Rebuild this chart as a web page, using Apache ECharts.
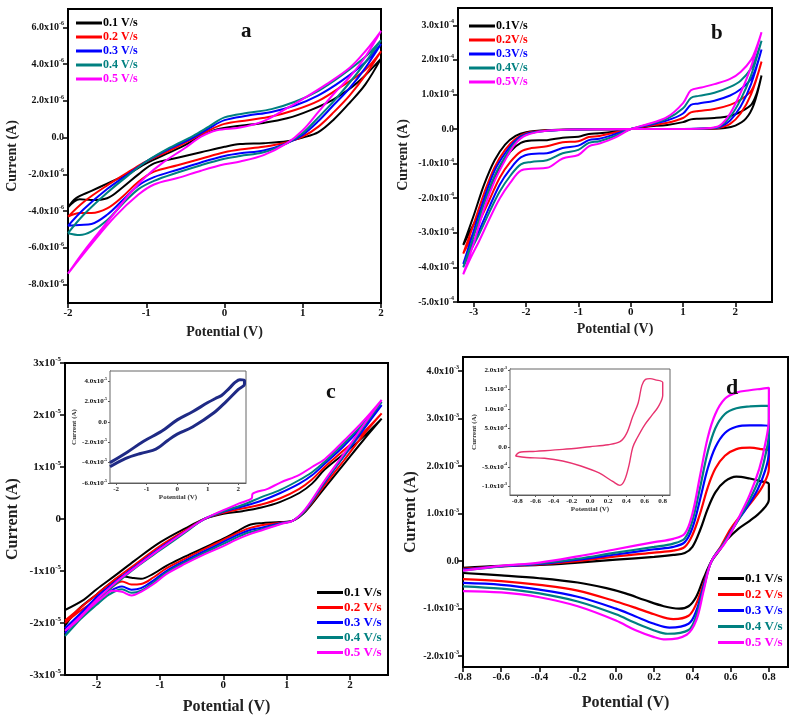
<!DOCTYPE html>
<html>
<head>
<meta charset="utf-8">
<script src="https://cdn.jsdelivr.net/npm/echarts@6/dist/echarts.min.js"></script>
<style>
  html, body { margin: 0; padding: 0; background: #fff; }
  #chart { width: 798px; height: 721px; }
</style>
</head>
<body>
<div id="chart"></div>
<script>
// scan rates and colours
const ratesSp = ['0.1 V/s', '0.2 V/s', '0.3 V/s', '0.4 V/s', '0.5 V/s'];
const ratesB = ['0.1V/s', '0.2V/s', '0.3V/s', '0.4V/s', '0.5V/s'];
const colors = ['#000000', '#ff0000', '#0000ff', '#008080', '#ff00ff'];

// ---- panel a : current in 1e-6 A ----
const aXTicks = [-2, -1, 0, 1, 2];
const aYTicks = [-8, -6, -4, -2, 0, 2, 4, 6];
const a01 = [[-2,-3.8],[-1.9,-3.3],[-1.7,-2.9],[-1.5,-2.5],[-1.2,-1.9],[-1,-1.4],[-0.7,-0.8],[-0.5,-0.4],[-0.3,0.1],[-0.1,0.45],[0.2,0.65],[0.5,0.8],[0.8,1.05],[1.1,1.5],[1.4,2.1],[1.7,3.0],[2,4.3],
  [1.8,2.9],[1.6,1.9],[1.4,1.0],[1.2,0.3],[1.0,0.0],[0.8,-0.2],[0.5,-0.3],[0.2,-0.35],[0,-0.5],[-0.3,-0.8],[-0.6,-1.1],[-0.9,-1.4],[-1.1,-2.0],[-1.3,-2.7],[-1.5,-3.3],[-1.7,-3.4],[-1.85,-3.35],[-2,-3.8]];
const a02 = [[-2,-4.3],[-1.8,-3.5],[-1.5,-2.6],[-1.2,-1.8],[-1,-1.3],[-0.7,-0.7],[-0.4,-0.05],[-0.2,0.4],[0,0.75],[0.3,0.95],[0.6,1.15],[0.9,1.5],[1.2,2.0],[1.5,2.8],[1.8,3.7],[2,4.7],
  [1.8,3.4],[1.6,2.3],[1.4,1.4],[1.2,0.6],[1.0,0.05],[0.8,-0.25],[0.5,-0.5],[0.2,-0.65],[0,-0.8],[-0.3,-1.15],[-0.6,-1.5],[-0.9,-1.85],[-1.1,-2.4],[-1.3,-3.2],[-1.5,-3.85],[-1.7,-4.1],[-1.85,-4.1],[-2,-4.3]];
const a03 = [[-2,-4.8],[-1.8,-3.9],[-1.5,-2.8],[-1.2,-1.9],[-1,-1.3],[-0.7,-0.6],[-0.4,0.0],[-0.2,0.5],[0,0.95],[0.3,1.2],[0.6,1.4],[0.9,1.75],[1.2,2.3],[1.5,3.1],[1.8,4.1],[2,5.1],
  [1.8,3.8],[1.6,2.7],[1.4,1.8],[1.2,0.9],[1.0,0.15],[0.8,-0.3],[0.5,-0.7],[0.2,-0.85],[0,-1.0],[-0.3,-1.35],[-0.6,-1.75],[-0.9,-2.15],[-1.1,-2.6],[-1.3,-3.4],[-1.5,-4.2],[-1.7,-4.7],[-1.85,-4.75],[-2,-4.8]];
const a04 = [[-2,-5.2],[-1.8,-4.2],[-1.5,-3.0],[-1.2,-1.95],[-1,-1.3],[-0.7,-0.55],[-0.4,0.1],[-0.2,0.6],[0,1.1],[0.3,1.35],[0.6,1.55],[0.9,1.95],[1.2,2.55],[1.5,3.4],[1.8,4.4],[2,5.3],
  [1.8,4.1],[1.6,3.0],[1.4,2.0],[1.2,1.1],[1.0,0.25],[0.8,-0.3],[0.5,-0.8],[0.2,-1.0],[0,-1.15],[-0.3,-1.5],[-0.6,-1.9],[-0.9,-2.35],[-1.1,-2.8],[-1.3,-3.6],[-1.5,-4.5],[-1.7,-5.1],[-1.85,-5.3],[-2,-5.2]];
const a05 = [[-2,-7.4],[-1.8,-6.2],[-1.5,-4.6],[-1.2,-3.0],[-1,-2.1],[-0.8,-1.4],[-0.5,-0.55],[-0.3,0.05],[-0.1,0.4],[0.2,0.55],[0.5,0.9],[0.8,1.6],[1.0,2.1],[1.3,2.9],[1.6,3.8],[1.8,4.7],[2,5.8],
  [1.8,4.4],[1.6,3.3],[1.4,2.4],[1.2,1.4],[1.0,0.4],[0.8,-0.3],[0.5,-0.95],[0.2,-1.3],[0,-1.45],[-0.3,-1.8],[-0.6,-2.2],[-0.9,-2.55],[-1.1,-3.1],[-1.4,-4.3],[-1.7,-5.8],[-2,-7.4]];

// ---- panel b : current in 1e-4 A ----
const bXTicks = [-3, -2, -1, 0, 1, 2];
const bYTicks = [-5, -4, -3, -2, -1, 0, 1, 2, 3];
const b01 = [[-3.2,-3.35],[-3.0,-2.5],[-2.8,-1.6],[-2.6,-0.9],[-2.4,-0.45],[-2.2,-0.2],[-2.0,-0.09],[-1.6,-0.03],[-1.0,-0.01],[0,0],[1.0,0.0],[1.5,0.01],[1.8,0.03],[2.0,0.1],[2.2,0.3],[2.35,0.7],[2.5,1.55],
  [2.4,1.0],[2.3,0.7],[2.1,0.5],[1.9,0.38],[1.6,0.32],[1.3,0.3],[1.15,0.28],[1.0,0.2],[0.7,0.12],[0.3,0.07],[0,0.0],[-0.3,-0.07],[-0.6,-0.12],[-0.8,-0.14],[-1.0,-0.22],[-1.3,-0.25],[-1.6,-0.32],[-1.9,-0.33],[-2.1,-0.4],[-2.3,-0.65],[-2.5,-1.1],[-2.7,-1.75],[-2.9,-2.45],[-3.05,-2.9],[-3.2,-3.35]];
const b02 = [[-3.2,-3.6],[-3.0,-2.75],[-2.8,-1.85],[-2.6,-1.1],[-2.4,-0.6],[-2.2,-0.28],[-2.0,-0.12],[-1.6,-0.04],[-1.0,-0.01],[0,0],[1.0,0.0],[1.5,0.01],[1.7,0.04],[1.9,0.15],[2.1,0.45],[2.3,1.0],[2.5,1.95],
  [2.4,1.45],[2.3,1.1],[2.1,0.85],[1.9,0.7],[1.6,0.58],[1.3,0.52],[1.15,0.48],[1.0,0.32],[0.7,0.18],[0.3,0.08],[0,0.0],[-0.3,-0.1],[-0.6,-0.2],[-0.8,-0.23],[-1.0,-0.35],[-1.3,-0.38],[-1.6,-0.5],[-1.9,-0.55],[-2.1,-0.65],[-2.3,-0.95],[-2.5,-1.4],[-2.7,-2.05],[-2.9,-2.7],[-3.05,-3.15],[-3.2,-3.6]];
const b03 = [[-3.2,-3.9],[-3.0,-2.95],[-2.8,-2.0],[-2.6,-1.2],[-2.4,-0.7],[-2.2,-0.33],[-2.0,-0.14],[-1.6,-0.05],[-1.0,-0.01],[0,0],[1.0,0],[1.5,0.02],[1.7,0.06],[1.9,0.25],[2.1,0.65],[2.3,1.3],[2.5,2.3],
  [2.4,1.8],[2.3,1.45],[2.1,1.15],[1.9,0.97],[1.6,0.82],[1.3,0.74],[1.15,0.7],[1.0,0.45],[0.7,0.25],[0.3,0.1],[0,0],[-0.3,-0.15],[-0.6,-0.28],[-0.8,-0.32],[-1.0,-0.48],[-1.3,-0.55],[-1.6,-0.7],[-1.9,-0.72],[-2.1,-0.82],[-2.3,-1.15],[-2.5,-1.6],[-2.7,-2.25],[-2.9,-2.95],[-3.05,-3.4],[-3.2,-3.9]];
const b04 = [[-3.2,-4.0],[-3.0,-3.1],[-2.8,-2.15],[-2.6,-1.35],[-2.4,-0.8],[-2.2,-0.38],[-2.0,-0.16],[-1.6,-0.05],[-1.0,-0.01],[0,0],[1.0,0],[1.5,0.02],[1.7,0.08],[1.9,0.35],[2.1,0.85],[2.3,1.55],[2.5,2.55],
  [2.4,2.1],[2.3,1.75],[2.1,1.4],[1.9,1.22],[1.6,1.05],[1.3,0.96],[1.15,0.9],[1.0,0.6],[0.7,0.3],[0.3,0.12],[0,0],[-0.3,-0.2],[-0.6,-0.35],[-0.8,-0.4],[-1.0,-0.6],[-1.3,-0.7],[-1.6,-0.9],[-1.9,-0.95],[-2.1,-1.02],[-2.3,-1.35],[-2.5,-1.8],[-2.7,-2.4],[-2.9,-3.05],[-3.05,-3.5],[-3.2,-4.0]];
const b05 = [[-3.2,-4.2],[-3.0,-3.3],[-2.8,-2.3],[-2.6,-1.5],[-2.4,-0.9],[-2.2,-0.42],[-2.0,-0.18],[-1.6,-0.05],[-1.0,-0.01],[0,0],[1.0,0],[1.5,0.03],[1.7,0.1],[1.9,0.45],[2.1,1.05],[2.3,1.8],[2.5,2.8],
  [2.4,2.35],[2.3,2.0],[2.1,1.65],[1.9,1.45],[1.6,1.3],[1.35,1.2],[1.15,1.12],[1.0,0.75],[0.7,0.35],[0.3,0.13],[0,0],[-0.3,-0.25],[-0.6,-0.42],[-0.8,-0.5],[-1.0,-0.75],[-1.3,-0.85],[-1.6,-1.12],[-1.9,-1.15],[-2.1,-1.2],[-2.3,-1.55],[-2.5,-2.0],[-2.7,-2.6],[-2.9,-3.25],[-3.05,-3.7],[-3.2,-4.2]];

// ---- panel c : current in 1e-5 A ----
const cXTicks = [-2, -1, 0, 1, 2];
const cYTicks = [-3, -2, -1, 0, 1, 2, 3];
const c01 = [[-2.5,-1.75],[-2.2,-1.55],[-2.0,-1.35],[-1.7,-1.08],[-1.4,-0.8],[-1.0,-0.45],[-0.6,-0.18],[-0.3,0.0],[0,0.1],[0.3,0.15],[0.6,0.22],[0.9,0.33],[1.2,0.5],[1.4,0.68],[1.6,0.95],[1.9,1.25],[2.2,1.57],[2.5,1.93],
  [2.2,1.5],[1.9,1.05],[1.6,0.6],[1.3,0.15],[1.1,-0.03],[0.9,-0.06],[0.6,-0.08],[0.4,-0.12],[0.2,-0.25],[0,-0.38],[-0.3,-0.55],[-0.6,-0.72],[-0.9,-0.9],[-1.1,-1.05],[-1.3,-1.15],[-1.45,-1.13],[-1.6,-1.1],[-1.8,-1.25],[-2.0,-1.45],[-2.3,-1.75],[-2.5,-2.05]];
const c02 = [[-2.5,-1.95],[-2.2,-1.65],[-2.0,-1.45],[-1.7,-1.15],[-1.4,-0.88],[-1.0,-0.52],[-0.6,-0.22],[-0.3,0.0],[0,0.12],[0.3,0.2],[0.6,0.28],[0.9,0.4],[1.2,0.58],[1.4,0.76],[1.6,1.0],[1.9,1.32],[2.2,1.65],[2.5,2.03],
  [2.2,1.6],[1.9,1.12],[1.6,0.65],[1.3,0.17],[1.1,-0.03],[0.9,-0.07],[0.6,-0.12],[0.4,-0.18],[0.2,-0.28],[0,-0.4],[-0.3,-0.58],[-0.6,-0.76],[-0.9,-0.95],[-1.1,-1.12],[-1.3,-1.25],[-1.45,-1.26],[-1.6,-1.2],[-1.8,-1.35],[-2.0,-1.55],[-2.3,-1.8],[-2.5,-2.0]];
const c03 = [[-2.5,-2.1],[-2.2,-1.75],[-2.0,-1.5],[-1.7,-1.2],[-1.4,-0.92],[-1.0,-0.56],[-0.6,-0.24],[-0.3,0.0],[0,0.14],[0.3,0.24],[0.6,0.35],[0.9,0.5],[1.2,0.68],[1.4,0.84],[1.6,1.06],[1.9,1.4],[2.2,1.78],[2.5,2.19],
  [2.2,1.7],[1.9,1.2],[1.6,0.7],[1.3,0.18],[1.1,-0.03],[0.9,-0.08],[0.6,-0.17],[0.4,-0.22],[0.2,-0.32],[0,-0.44],[-0.3,-0.62],[-0.6,-0.8],[-0.9,-1.0],[-1.1,-1.18],[-1.3,-1.33],[-1.45,-1.36],[-1.6,-1.3],[-1.8,-1.4],[-2.0,-1.6],[-2.3,-1.9],[-2.5,-2.2]];
const c04 = [[-2.5,-2.25],[-2.2,-1.85],[-2.0,-1.58],[-1.7,-1.25],[-1.4,-0.95],[-1.0,-0.6],[-0.6,-0.26],[-0.3,0.0],[0,0.15],[0.3,0.27],[0.6,0.42],[0.9,0.56],[1.2,0.75],[1.4,0.9],[1.6,1.1],[1.9,1.45],[2.2,1.82],[2.5,2.25],
  [2.2,1.75],[1.9,1.22],[1.6,0.72],[1.3,0.18],[1.1,-0.03],[0.9,-0.09],[0.6,-0.2],[0.4,-0.26],[0.2,-0.36],[0,-0.48],[-0.3,-0.65],[-0.6,-0.83],[-0.9,-1.03],[-1.1,-1.22],[-1.3,-1.38],[-1.45,-1.42],[-1.6,-1.35],[-1.8,-1.45],[-2.0,-1.65],[-2.3,-1.98],[-2.5,-2.25]];
const c05 = [[-2.5,-2.15],[-2.2,-1.8],[-2.0,-1.55],[-1.7,-1.22],[-1.4,-0.94],[-1.0,-0.58],[-0.6,-0.24],[-0.3,0.0],[0,0.17],[0.25,0.3],[0.45,0.4],[0.46,0.48],[0.7,0.58],[0.9,0.7],[1.2,0.85],[1.4,1.0],[1.6,1.15],[1.9,1.5],[2.2,1.87],[2.5,2.29],
  [2.2,1.78],[1.9,1.25],[1.6,0.74],[1.3,0.2],[1.1,-0.03],[0.9,-0.1],[0.6,-0.22],[0.4,-0.3],[0.2,-0.4],[0,-0.52],[-0.3,-0.68],[-0.6,-0.86],[-0.9,-1.06],[-1.1,-1.25],[-1.3,-1.4],[-1.45,-1.47],[-1.6,-1.4],[-1.75,-1.38],[-1.9,-1.5],[-2.1,-1.7],[-2.3,-1.95],[-2.5,-2.15]];

// inset of c : 20 segments, current in 1e-5 A
const ciXTicks = [-2, -1, 0, 1, 2];
const ciYTicks = [-6, -4, -2, 0, 2, 4];
const cInset = [[-2.2,-4.0],[-1.65,-3.0],[-1.1,-1.9],[-0.5,-0.9],[0,0.2],[0.5,1.0],[1.0,1.9],[1.25,2.3],[1.45,2.6],[1.7,3.3],[1.9,3.9],[2.05,4.15],[2.2,4.1],
  [2.2,3.7],[2.0,3.2],[1.6,2.0],[1.2,0.9],[0.5,-0.5],[0,-1.2],[-0.3,-1.8],[-0.6,-2.5],[-0.8,-2.8],[-1.2,-3.1],[-1.7,-3.6],[-2.2,-4.4]];

// ---- panel d : current in 1e-3 A ----
const dXTicks = [-0.8, -0.6, -0.4, -0.2, 0, 0.2, 0.4, 0.6, 0.8];
const dYTicks = [-2, -1, 0, 1, 2, 3, 4];
const d01 = [[-0.8,-0.14],[-0.6,-0.1],[-0.4,-0.08],[-0.2,-0.03],[0,0.03],[0.2,0.09],[0.3,0.13],[0.36,0.17],[0.4,0.3],[0.44,0.65],[0.48,1.1],[0.52,1.45],[0.57,1.68],[0.63,1.78],[0.7,1.74],[0.76,1.68],[0.8,1.62],
  [0.8,1.3],[0.76,1.05],[0.7,0.85],[0.64,0.68],[0.58,0.45],[0.54,0.22],[0.5,0.0],[0.46,-0.35],[0.42,-0.75],[0.38,-0.95],[0.33,-1.0],[0.25,-0.95],[0.15,-0.82],[0.05,-0.68],[-0.05,-0.57],[-0.2,-0.45],[-0.4,-0.36],[-0.6,-0.3],[-0.8,-0.25]];
const d02 = [[-0.8,-0.16],[-0.6,-0.11],[-0.4,-0.07],[-0.2,0.0],[0,0.1],[0.2,0.18],[0.3,0.22],[0.36,0.3],[0.4,0.55],[0.44,1.0],[0.48,1.55],[0.52,1.95],[0.57,2.22],[0.63,2.36],[0.7,2.39],[0.76,2.36],[0.8,2.32],
  [0.8,1.95],[0.77,1.6],[0.72,1.3],[0.66,1.0],[0.6,0.68],[0.55,0.32],[0.5,0.0],[0.46,-0.45],[0.42,-0.9],[0.38,-1.15],[0.3,-1.22],[0.2,-1.12],[0.1,-0.98],[0,-0.85],[-0.2,-0.62],[-0.4,-0.5],[-0.6,-0.42],[-0.8,-0.38]];
const d03 = [[-0.8,-0.18],[-0.6,-0.11],[-0.4,-0.06],[-0.2,0.03],[0,0.14],[0.2,0.25],[0.3,0.3],[0.36,0.4],[0.4,0.7],[0.44,1.3],[0.48,1.95],[0.52,2.4],[0.57,2.7],[0.63,2.83],[0.7,2.86],[0.76,2.86],[0.8,2.85],
  [0.8,2.3],[0.78,1.9],[0.74,1.5],[0.68,1.1],[0.62,0.75],[0.56,0.35],[0.5,0.0],[0.46,-0.5],[0.42,-1.05],[0.38,-1.32],[0.28,-1.4],[0.2,-1.32],[0.1,-1.16],[0,-1.0],[-0.2,-0.75],[-0.4,-0.6],[-0.6,-0.5],[-0.8,-0.46]];
const d04 = [[-0.8,-0.2],[-0.6,-0.11],[-0.4,-0.05],[-0.2,0.05],[0,0.18],[0.2,0.3],[0.3,0.37],[0.36,0.48],[0.4,0.85],[0.44,1.55],[0.48,2.3],[0.52,2.8],[0.57,3.1],[0.63,3.22],[0.7,3.26],[0.76,3.27],[0.8,3.27],
  [0.8,2.7],[0.78,2.2],[0.75,1.75],[0.7,1.3],[0.63,0.8],[0.56,0.35],[0.5,0.0],[0.46,-0.55],[0.42,-1.15],[0.38,-1.45],[0.27,-1.53],[0.2,-1.46],[0.1,-1.3],[0,-1.12],[-0.2,-0.85],[-0.4,-0.68],[-0.6,-0.58],[-0.8,-0.53]];
const d05 = [[-0.8,-0.2],[-0.6,-0.1],[-0.4,-0.03],[-0.2,0.1],[0,0.25],[0.2,0.4],[0.3,0.47],[0.36,0.58],[0.4,1.0],[0.44,1.8],[0.48,2.6],[0.52,3.1],[0.57,3.42],[0.63,3.55],[0.7,3.6],[0.76,3.63],[0.8,3.65],
  [0.8,3.0],[0.78,2.45],[0.75,1.95],[0.7,1.4],[0.64,0.9],[0.57,0.38],[0.5,0.0],[0.46,-0.6],[0.42,-1.25],[0.37,-1.55],[0.26,-1.65],[0.2,-1.6],[0.1,-1.45],[0,-1.25],[-0.2,-0.95],[-0.4,-0.76],[-0.6,-0.66],[-0.8,-0.63]];

// inset of d : 20 segments, current in 1e-3 A
const diXTicks = [-0.8, -0.6, -0.4, -0.2, 0, 0.2, 0.4, 0.6, 0.8];
const diYTicks = [-1.0, -0.5, 0, 0.5, 1.0, 1.5, 2.0];
const diYLabels = [['-1.0', '-3'], ['-5.0', '-4'], ['0.0', ''], ['5.0', '-4'], ['1.0', '-3'], ['1.5', '-3'], ['2.0', '-3']];
const dInset = [[-0.82,-0.22],[-0.78,-0.13],[-0.6,-0.1],[-0.3,-0.05],[0,0.02],[0.2,0.07],[0.33,0.15],[0.4,0.35],[0.47,0.8],[0.53,1.15],[0.57,1.6],[0.61,1.76],[0.66,1.78],[0.72,1.75],[0.8,1.68],
  [0.8,1.35],[0.75,1.05],[0.68,0.83],[0.6,0.58],[0.52,0.25],[0.47,0.0],[0.43,-0.45],[0.38,-0.85],[0.33,-0.98],[0.25,-0.88],[0.1,-0.66],[-0.1,-0.48],[-0.3,-0.35],[-0.5,-0.28],[-0.7,-0.26],[-0.82,-0.22]];

const SERIF = '"Liberation Serif", "DejaVu Serif", serif';

function rich(size) {
  return {
    m: { fontFamily: SERIF, fontWeight: 'bold', fontSize: size, color: '#111' },
    e: { fontFamily: SERIF, fontWeight: 'bold', fontSize: Math.round(size * 0.6), color: '#111', padding: [0, 0, Math.round(size * 0.7), 0] }
  };
}
function sci(m, e) { return e ? '{m|' + m + 'x10}{e|' + e + '}' : '{m|' + m + '}'; }

function xAxisMain(grid, min, max, ticks, fmt, gap, fs) {
  return {
    type: 'value', gridIndex: grid, min: min, max: max,
    name: 'Potential (V)', nameLocation: 'middle', nameGap: gap,
    nameTextStyle: { fontFamily: SERIF, fontWeight: 'bold', fontSize: fs, color: '#222' },
    axisLine: { show: true, onZero: false, lineStyle: { color: '#000', width: 2 } },
    axisTick: { show: true, customValues: ticks, length: 5, lineStyle: { color: '#000', width: 1.5 } },
    axisLabel: { customValues: ticks, formatter: fmt, margin: 5, fontFamily: SERIF, fontWeight: 'bold', fontSize: 11, color: '#111' },
    splitLine: { show: false }
  };
}
function yAxisMain(grid, min, max, ticks, fmt, gap, fs, lsize) {
  return {
    type: 'value', gridIndex: grid, min: min, max: max,
    name: 'Current (A)', nameLocation: 'middle', nameGap: gap, nameRotate: 90,
    nameTextStyle: { fontFamily: SERIF, fontWeight: 'bold', fontSize: fs, color: '#222' },
    axisLine: { show: true, onZero: false, lineStyle: { color: '#000', width: 2 } },
    axisTick: { show: true, customValues: ticks, length: 5, lineStyle: { color: '#000', width: 1.5 } },
    axisLabel: { customValues: ticks, formatter: fmt, margin: 4, rich: rich(lsize) },
    splitLine: { show: false }
  };
}
function xAxisInset(grid, min, max, ticks, fmt, gap) {
  return {
    type: 'value', gridIndex: grid, min: min, max: max,
    name: 'Potential (V)', nameLocation: 'middle', nameGap: gap,
    nameTextStyle: { fontFamily: SERIF, fontWeight: 'bold', fontSize: 7, color: '#333' },
    axisLine: { show: true, onZero: false, lineStyle: { color: '#555', width: 1 } },
    axisTick: { show: true, customValues: ticks, length: 2, lineStyle: { color: '#555' } },
    axisLabel: { customValues: ticks, formatter: fmt, margin: 3, fontFamily: SERIF, fontWeight: 'bold', fontSize: 7, color: '#222' },
    splitLine: { show: false }
  };
}
function yAxisInset(grid, min, max, ticks, fmt, gap) {
  return {
    type: 'value', gridIndex: grid, min: min, max: max,
    name: 'Current (A)', nameLocation: 'middle', nameGap: gap, nameRotate: 90,
    nameTextStyle: { fontFamily: SERIF, fontWeight: 'bold', fontSize: 7, color: '#333' },
    axisLine: { show: true, onZero: false, lineStyle: { color: '#555', width: 1 } },
    axisTick: { show: true, customValues: ticks, length: 2, lineStyle: { color: '#555' } },
    axisLabel: { customValues: ticks, formatter: fmt, margin: 3, rich: rich(7) },
    splitLine: { show: false }
  };
}

function loop(name, data, color, idx, width) {
  return {
    name: name, type: 'line', data: data, xAxisIndex: idx, yAxisIndex: idx,
    smooth: 0.35, showSymbol: false, symbol: 'none', clip: true,
    lineStyle: { color: color, width: width }, itemStyle: { color: color }
  };
}

function legendFor(names, left, top, fs, gap) {
  return {
    left: left, top: top, orient: 'vertical', itemGap: gap,
    itemWidth: 26, itemHeight: 3, icon: 'rect', padding: 0, selectedMode: false,
    data: names.map((n, i) => ({ name: n, textStyle: { color: colors[i] } })),
    textStyle: { fontFamily: SERIF, fontWeight: 'bold', fontSize: fs, padding: [0, 0, 0, -4] }
  };
}

const gridBox = { show: true, borderColor: '#000', borderWidth: 2, backgroundColor: 'transparent' };

const option = {
  animation: false,
  backgroundColor: '#fff',
  title: [
    { text: 'a', left: 236, top: 16, textStyle: { fontFamily: SERIF, fontWeight: 'bold', fontSize: 21, color: '#111' } },
    { text: 'b', left: 706, top: 18, textStyle: { fontFamily: SERIF, fontWeight: 'bold', fontSize: 21, color: '#111' } },
    { text: 'c', left: 321, top: 376, textStyle: { fontFamily: SERIF, fontWeight: 'bold', fontSize: 22, color: '#111' } },
    { text: 'd', left: 721, top: 372, textStyle: { fontFamily: SERIF, fontWeight: 'bold', fontSize: 22, color: '#111' } }
  ],
  legend: [
    legendFor(ratesSp, 76, 17, 12, 2),
    legendFor(ratesB, 469, 20, 12, 2),
    legendFor(ratesSp, 317, 586, 13, 2),
    legendFor(ratesSp, 718, 572, 13, 3),
    { left: 120, top: 375, itemWidth: 13, itemHeight: 1, icon: 'rect', padding: 0, selectedMode: false,
      data: [{ name: '20 seg', itemStyle: { color: '#4a5a9a' } }],
      textStyle: { fontFamily: SERIF, fontWeight: 'bold', fontSize: 7, color: '#1a237e', padding: [0, 0, 0, -2] } },
    { left: 517, top: 375, itemWidth: 18, itemHeight: 1.5, icon: 'rect', padding: 0, selectedMode: false,
      data: [{ name: '20 seg ', itemStyle: { color: '#e8336f' } }],
      textStyle: { fontFamily: SERIF, fontWeight: 'bold', fontSize: 8, color: '#e8336f', padding: [0, 0, 0, -2] } }
  ],
  grid: [
    Object.assign({ left: 68, top: 9, width: 313, height: 294 }, gridBox),
    Object.assign({ left: 458, top: 8, width: 314, height: 294 }, gridBox),
    Object.assign({ left: 65, top: 363, width: 323, height: 312 }, gridBox),
    Object.assign({ left: 463, top: 357, width: 325, height: 310 }, gridBox),
    { show: true, left: 110, top: 371, width: 136, height: 112, backgroundColor: '#fff', borderColor: '#666', borderWidth: 1, z: 5 },
    { show: true, left: 510, top: 369, width: 160, height: 126, backgroundColor: '#fff', borderColor: '#666', borderWidth: 1, z: 5 }
  ],
  xAxis: [
    xAxisMain(0, -2, 2, aXTicks, v => String(v), 22, 14),
    xAxisMain(1, -3.3, 2.7, bXTicks, v => String(v), 20, 14),
    xAxisMain(2, -2.5, 2.6, cXTicks, v => String(v), 24, 16),
    xAxisMain(3, -0.8, 0.9, dXTicks, v => v.toFixed(1), 28, 16),
    xAxisInset(4, -2.2, 2.25, ciXTicks, v => String(v), 10),
    xAxisInset(5, -0.88, 0.88, diXTicks, v => v.toFixed(1), 10)
  ],
  yAxis: [
    yAxisMain(0, -9, 7, aYTicks, v => v === 0 ? sci('0.0', '') : sci(v.toFixed(1), '-6'), 49, 14, 10),
    yAxisMain(1, -5, 3.5, bYTicks, v => v === 0 ? sci('0.0', '') : sci(v.toFixed(1), '-4'), 48, 14, 10),
    yAxisMain(2, -3, 3, cYTicks, v => v === 0 ? sci('0', '') : sci(String(v), '-5'), 44, 16, 11),
    yAxisMain(3, -2.23, 4.3, dYTicks, v => v === 0 ? sci('0.0', '') : sci(v.toFixed(1), '-3'), 44, 16, 10),
    yAxisInset(4, -6, 5, ciYTicks, v => v === 0 ? sci('0.0', '') : sci(v.toFixed(1), '-5'), 30),
    yAxisInset(5, -1.23, 2.03, diYTicks, v => {
      const i = diYTicks.indexOf(v);
      return i < 0 ? '' : sci(diYLabels[i][0], diYLabels[i][1]);
    }, 31)
  ],
  series: [
    loop(ratesSp[0], a01, colors[0], 0, 2), loop(ratesSp[1], a02, colors[1], 0, 2),
    loop(ratesSp[2], a03, colors[2], 0, 2), loop(ratesSp[3], a04, colors[3], 0, 2),
    loop(ratesSp[4], a05, colors[4], 0, 2),
    loop(ratesB[0], b01, colors[0], 1, 2), loop(ratesB[1], b02, colors[1], 1, 2),
    loop(ratesB[2], b03, colors[2], 1, 2), loop(ratesB[3], b04, colors[3], 1, 2),
    loop(ratesB[4], b05, colors[4], 1, 2),
    loop(ratesSp[0], c01, colors[0], 2, 2), loop(ratesSp[1], c02, colors[1], 2, 2),
    loop(ratesSp[2], c03, colors[2], 2, 2), loop(ratesSp[3], c04, colors[3], 2, 2),
    loop(ratesSp[4], c05, colors[4], 2, 2),
    loop(ratesSp[0], d01, colors[0], 3, 2.2), loop(ratesSp[1], d02, colors[1], 3, 2.2),
    loop(ratesSp[2], d03, colors[2], 3, 2.2), loop(ratesSp[3], d04, colors[3], 3, 2.2),
    loop(ratesSp[4], d05, colors[4], 3, 2.2),
    Object.assign(loop('20 seg', cInset, '#1f2a85', 4, 3), { z: 6 }),
    Object.assign(loop('20 seg ', dInset, '#e8336f', 5, 1.4), { z: 6 })
  ]
};

const chart = echarts.init(document.getElementById('chart'), null, { renderer: 'canvas' });
chart.setOption(option);
</script>
</body>
</html>
